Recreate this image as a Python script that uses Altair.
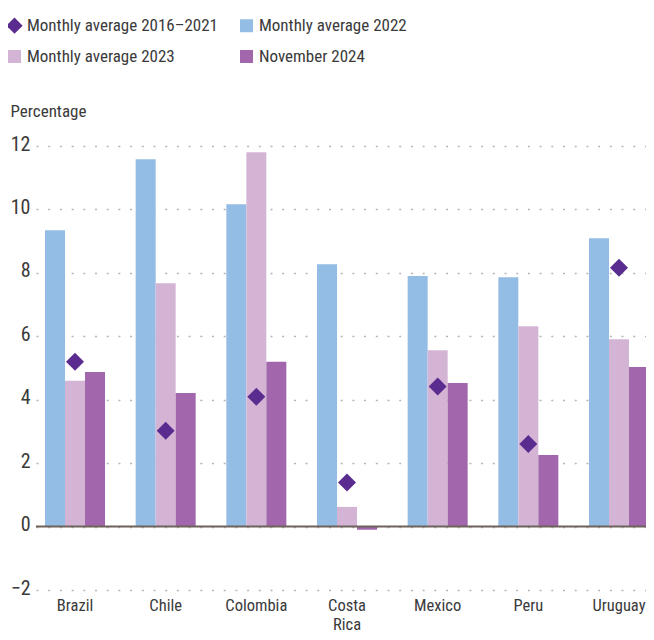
import altair as alt
import pandas as pd

countries = ["Brazil", "Chile", "Colombia", "Costa Rica", "Mexico", "Peru", "Uruguay"]
series_names = ["Monthly average 2016–2021", "Monthly average 2022",
                "Monthly average 2023", "November 2024"]
avg_2016_2021 = [5.20, 3.02, 4.09, 1.39, 4.42, 2.60, 8.16]
avg_2022 = [9.34, 11.58, 10.16, 8.27, 7.90, 7.86, 9.09]
avg_2023 = [4.60, 7.67, 11.80, 0.62, 5.56, 6.32, 5.91]
nov_2024 = [4.87, 4.21, 5.20, -0.10, 4.53, 2.26, 5.03]
colors = ["#5B2C8F", "#94BDE5", "#D4B4D4", "#A166AB"]
y_ticks = [-2, 0, 2, 4, 6, 8, 10, 12]

rows = []
for name, vals in zip(series_names, [avg_2016_2021, avg_2022, avg_2023, nov_2024]):
    for c, v in zip(countries, vals):
        rows.append({"country": c, "series": name, "value": v})
df = pd.DataFrame(rows)

FONT = "Roboto Condensed, Liberation Sans Narrow, Roboto, sans-serif"
DIAMOND = "M0,-1.25L1.25,0L0,1.25L-1.25,0Z"
TXT = "#3a3a3a"

x_scale = alt.Scale(paddingInner=0.3383, paddingOuter=0.0993, round=False)
x_enc = alt.X("country:N", sort=countries, title=None, scale=x_scale,
              axis=alt.Axis(labelExpr="datum.value == 'Costa Rica' ? ['Costa', 'Rica'] : datum.value",
                            labelAngle=0, labelFontSize=16.5, labelFont=FONT, labelColor=TXT,
                            labelPadding=7, labelLineHeight=19, domain=False, ticks=False,
                            grid=False))
y_scale = alt.Scale(domain=[-2, 12], nice=False, zero=False)
y_axis = alt.Axis(values=y_ticks, title="Percentage", titleAngle=0, titleAlign="left",
                  titleBaseline="alphabetic", titleX=-26, titleY=-30, titleFont=FONT,
                  titleFontSize=17, titleFontWeight="normal", titleColor=TXT,
                  labelFont=FONT, labelFontSize=20, labelColor=TXT, labelPadding=6,
                  labelOffset=-2, domain=False, ticks=False, grid=True, gridColor="#b5b5b5",
                  gridDash=[2, 9.7], gridWidth=1.5)
color_scale = alt.Scale(domain=series_names, range=colors)
legend = alt.Legend(title=None, orient="none", direction="horizontal", legendX=-30,
                    legendY=-129, columns=2, columnPadding=20, rowPadding=13,
                    labelFont=FONT, labelFontSize=17, labelColor=TXT, symbolSize=169,
                    labelOffset=4, padding=0, symbolStrokeWidth=0, labelLimit=400)

bars = alt.Chart(df).transform_filter(
    alt.datum.series != series_names[0]
).mark_bar().encode(
    x=x_enc,
    xOffset=alt.XOffset("series:N", sort=series_names[1:],
                        scale=alt.Scale(paddingInner=0, paddingOuter=0, round=False)),
    y=alt.Y("value:Q", scale=y_scale, axis=y_axis),
    color=alt.Color("series:N", scale=color_scale, legend=legend),
)

zero = alt.Chart(pd.DataFrame({"v": [0]})).mark_rule(color="#6E625C", strokeWidth=2).encode(
    y=alt.Y("v:Q", scale=y_scale)
)

points = alt.Chart(df).transform_filter(
    alt.datum.series == series_names[0]
).mark_point(filled=True, size=207, opacity=1).encode(
    x=alt.X("country:N", sort=countries, scale=x_scale),
    y=alt.Y("value:Q", scale=y_scale),
    color=alt.Color("series:N", scale=color_scale, legend=legend),
    shape=alt.Shape("series:N", scale=alt.Scale(domain=series_names,
                                                range=[DIAMOND, "square", "square", "square"]),
                    legend=legend),
)

chart = alt.layer(bars, zero, points).properties(
    width=622, height=444,
    autosize=alt.AutoSizeParams(type="none"),
    padding={"left": 28, "top": 138, "right": -12, "bottom": 42},
).configure_view(stroke=None)

chart.save("out.html", embed_options={"renderer": "svg", "actions": False})
